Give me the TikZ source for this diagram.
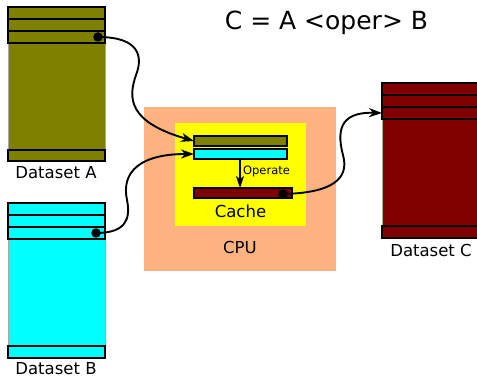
\documentclass[tikz,border=0pt]{standalone}
\usepackage{fontspec}
\setmainfont{DejaVu Sans}
\usetikzlibrary{arrows.meta}
\definecolor{olv}{HTML}{808000}
\definecolor{cyn}{HTML}{00FFFF}
\definecolor{mrn}{HTML}{800000}
\definecolor{peach}{HTML}{FFB380}
\definecolor{ylw}{HTML}{FFFF00}
\begin{document}
\begin{tikzpicture}[x=1pt,y=-1pt,
 box/.style={anchor=north west, inner sep=0pt, outer sep=0pt},
 body/.style={box, draw=gray!70, line width=1pt, minimum width=97pt, minimum height=155pt},
 strip/.style={box, draw=black, line width=1.8pt, minimum width=97pt, minimum height=12pt},
 bar/.style={box, draw=black, line width=1.5pt, minimum height=10pt},
 dot/.style={circle, fill=black, inner sep=0pt, minimum size=9.5pt},
 link/.style={line width=1.9pt, -{Stealth[length=13pt,width=9pt,inset=4pt]}},
 lbl/.style={font=\fontsize{16.5}{18}\selectfont, anchor=base, inner sep=0pt}]
\useasboundingbox (0,0) rectangle (477,377);
% Dataset A
\node[body, fill=olv] (abody) at (8,7) {};
\node[strip, fill=olv] (a1) at (8,7) {};
\node[strip, fill=olv] (a2) at (8,19) {};
\node[strip, fill=olv] (a3) at (8,31) {};
\node[strip, fill=olv, minimum height=11pt] (a4) at (8,150) {};
\node[lbl] (alab) at (56,179) {Dataset A};
% Dataset B
\node[body, fill=cyn] (bbody) at (8,203) {};
\node[strip, fill=cyn] (b1) at (8,203) {};
\node[strip, fill=cyn] (b2) at (8,215) {};
\node[strip, fill=cyn] (b3) at (8,227) {};
\node[strip, fill=cyn] (b4) at (8,346) {};
\node[lbl] (blab) at (56,374) {Dataset B};
% Dataset C
\node[body, fill=mrn] (cbody) at (382,83) {};
\node[strip, fill=mrn] (c1) at (382,83) {};
\node[strip, fill=mrn] (c2) at (382,95) {};
\node[strip, fill=mrn] (c3) at (382,107) {};
\node[strip, fill=mrn] (c4) at (382,226) {};
\node[lbl] (clab) at (431,256) {Dataset C};
% CPU
\node[box, fill=peach, minimum width=192pt, minimum height=164pt] (cpu) at (144,107) {};
\node[lbl] (cpulab) at (240,253) {CPU};
\node[box, fill=ylw, minimum width=131pt, minimum height=103pt] (cache) at (175,123) {};
\node[lbl] (cachelab) at (240.5,218) {Cache};
\node[bar, fill=olv, minimum width=93pt] (ba) at (194,136) {};
\node[bar, fill=cyn, minimum width=93pt] (bb) at (194,149) {};
\node[bar, fill=mrn, minimum width=98pt] (bc) at (194,188) {};
\draw[line width=1.5pt, -{Stealth[length=12pt,width=8pt,inset=3pt]}] (bb.south -| 240,0) -- (bc.north -| 240,0);
\node[font=\fontsize{11.5}{13}\selectfont, anchor=base, inner sep=0pt] (op) at (266.5,175) {Operate};
% Title
\node[font=\fontsize{25}{28}\selectfont, anchor=base, inner sep=0pt] (title) at (326.5,30) {C = A <oper> B};
% dots
\node[dot] (da) at (98,37) {};
\node[dot] (db) at (96,233) {};
\node[dot] (dc) at (283,194) {};
% links
\draw[link] (da.center) .. controls (140,37) and (143,57) .. (136,75) .. controls (128,98) and (128,122) .. (ba.west);
\draw[link] (db.center) .. controls (125,233) and (131,220) .. (127,200) .. controls (121,172) and (140,154) .. (bb.west);
\draw[link] (dc.center) .. controls (330,193) and (350,180) .. (343,155) .. controls (335,125) and (345,112) .. (c3.west);
\end{tikzpicture}
\end{document}
